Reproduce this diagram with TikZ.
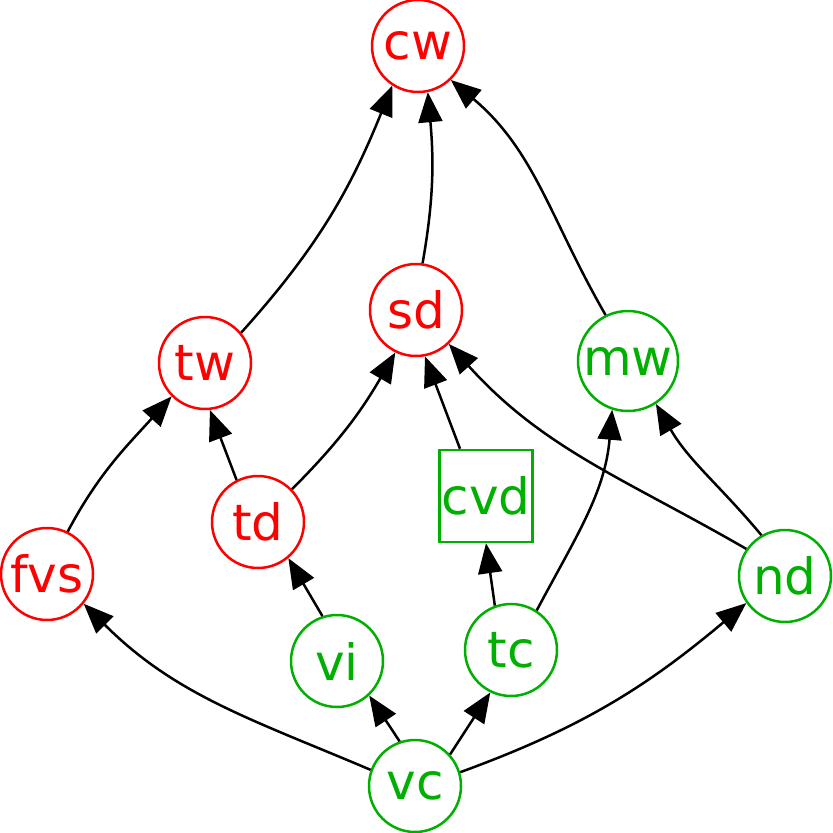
\documentclass[tikz,border=0pt]{standalone}
\usepackage{fontspec}
\setmainfont{DejaVu Sans}
\usetikzlibrary{arrows.meta}
\definecolor{gr}{RGB}{0,176,0}
\begin{document}
\begin{tikzpicture}[x=1pt,y=1pt,
  rn/.style={circle,draw=red,text=red,line width=2.5pt,minimum size=92pt,inner sep=0pt,font=\fontsize{50}{60}\selectfont},
  gn/.style={rn,draw=gr,text=gr},
  edge/.style={line width=2.5pt,-{Triangle[length=30pt,width=24pt]}}]
\useasboundingbox (0,0) rectangle (833,-833);
\node[rn] (cw) at (418,-46) {cw};
\node[rn] (sd) at (416,-310) {sd};
\node[rn] (tw) at (205,-363) {tw};
\node[gn,minimum size=100pt] (mw) at (628,-361) {mw};
\node[rn] (td) at (258,-522) {td};
\node[gn,rectangle,minimum width=93pt,minimum height=92pt] (cvd) at (486,-496) {cvd};
\node[rn] (fvs) at (47,-574) {fvs};
\node[gn] (nd) at (785,-576) {nd};
\node[gn] (vi) at (337,-661) {vi};
\node[gn] (tc) at (511,-650) {tc};
\node[gn] (vc) at (415,-786) {vc};
\draw[edge] (tw.40) to[out=48,in=-112] (cw.-123);
\draw[edge] (sd.82) to[out=80,in=-85] (cw.-78);
\draw[edge] (mw.116) to[out=120,in=-40] (cw.-46);
\draw[edge] (fvs.64) to[out=62,in=-132] (tw.-135);
\draw[edge] (td.117) -- (tw.-84);
\draw[edge] (td.44) to[out=45,in=-120] (sd.-116);
\draw[edge] ([xshift=-26pt]cvd.north) -- (sd.-79);
\draw[edge] (nd.145) to[out=150,in=-48] (sd.-46);
\draw[edge] (nd.120) to[out=130,in=-60] (mw.-57);
\draw[edge] (tc.57) to[out=62,in=-95] (mw.-108);
\draw[edge] (tc.110) -- (cvd.south);
\draw[edge] (vi.108) -- (td.-50);
\draw[edge] (vc.160) to[out=157,in=-45] (fvs.-39);
\draw[edge] (vc.109) -- (vi.-47);
\draw[edge] (vc.42) -- (tc.-116);
\draw[edge] (vc.17) to[out=20,in=-140] (nd.-145);
\end{tikzpicture}
\end{document}
